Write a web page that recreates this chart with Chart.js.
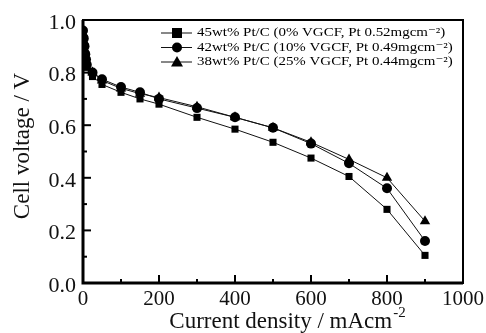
<!DOCTYPE html>
<html>
<head>
<meta charset="utf-8">
<script src="https://cdn.jsdelivr.net/npm/chart.js@4/dist/chart.umd.min.js"></script>
<style>
  html, body { margin: 0; padding: 0; background: #fff; }
  #wrap { width: 486px; height: 333px; }
</style>
</head>
<body>
<div id="wrap"><canvas id="fcChart" width="486" height="333"></canvas></div>
<script>
const current = [0, 2, 4, 6, 8, 10, 25, 50, 100, 150, 200, 300, 400, 500, 600, 700, 800, 900];
const v45 = [0.95, 0.92, 0.89, 0.86, 0.84, 0.82, 0.785, 0.755, 0.725, 0.70, 0.68, 0.63, 0.585, 0.535, 0.475, 0.405, 0.28, 0.105];
const v42 = [0.96, 0.93, 0.90, 0.87, 0.85, 0.83, 0.80, 0.775, 0.745, 0.725, 0.70, 0.665, 0.63, 0.59, 0.53, 0.455, 0.36, 0.16];
const v38 = [0.95, 0.92, 0.89, 0.86, 0.84, 0.82, 0.80, 0.77, 0.74, 0.72, 0.705, 0.67, 0.63, 0.59, 0.535, 0.47, 0.40, 0.235];
const seriesNames = [
  "45wt% Pt/C (0% VGCF, Pt 0.52mgcm\u207B\u00B2)",
  "42wt% Pt/C (10% VGCF, Pt 0.49mgcm\u207B\u00B2)",
  "38wt% Pt/C (25% VGCF, Pt 0.44mgcm\u207B\u00B2)",
];
const markers = ["rect", "circle", "triangle"];
const xTicks = [0, 200, 400, 600, 800, 1000];
const yTicks = [0.0, 0.2, 0.4, 0.6, 0.8, 1.0];
const xTitle = "Current density / mAcm";
const xTitleSup = "-2";
const yTitle = "Cell voltage / V";

const serif = "'Liberation Serif', 'DejaVu Serif', serif";

function pts(ys) {
  return current.map((x, i) => ({ x: x, y: ys[i] }));
}

function ds(label, ys, style) {
  return {
    label: label,
    data: pts(ys),
    borderColor: "#111",
    backgroundColor: "#000",
    borderWidth: 1,
    pointStyle: style,
    pointRadius: style === "triangle" ? 6 : 5,
    pointBorderWidth: 0,
    tension: 0,
  };
}

// frame, inward ticks, tick labels, titles and legend
const framePlugin = {
  id: "frame",
  afterDraw(chart) {
    const c = chart.ctx;
    const a = chart.chartArea;
    const xs = chart.scales.x;
    const ys = chart.scales.y;
    c.save();
    c.strokeStyle = "#000";
    c.lineWidth = 2;
    c.strokeRect(a.left, a.top, a.right - a.left, a.bottom - a.top);
    c.lineWidth = 3;
    c.beginPath();
    c.moveTo(a.left, a.top);
    c.lineTo(a.left, a.bottom);
    c.lineTo(a.right, a.bottom);
    c.stroke();

    c.lineWidth = 2;
    for (let v = 0; v <= 1000; v += 100) {
      const px = xs.getPixelForValue(v);
      const len = v % 200 === 0 ? 8 : 4;
      c.beginPath();
      c.moveTo(px, a.bottom);
      c.lineTo(px, a.bottom - len);
      c.stroke();
    }
    for (let k = 0; k <= 10; k++) {
      const py = ys.getPixelForValue(k / 10);
      const len = k % 2 === 0 ? 8 : 4;
      c.beginPath();
      c.moveTo(a.left, py);
      c.lineTo(a.left + len, py);
      c.stroke();
    }

    // tick labels
    c.fillStyle = "#111";
    c.textBaseline = "middle";
    c.font = "21px " + serif;
    c.textAlign = "center";
    xTicks.forEach((v) => {
      c.fillText(String(v), xs.getPixelForValue(v), a.bottom + 16);
    });
    c.font = "22px " + serif;
    c.textAlign = "right";
    yTicks.forEach((v) => {
      c.fillText(v.toFixed(1), a.left - 7, ys.getPixelForValue(v) + 3);
    });

    // axis titles
    c.font = "23px " + serif;
    c.textAlign = "left";
    const w1 = c.measureText(xTitle).width;
    c.font = "15px " + serif;
    const w2 = c.measureText(xTitleSup).width;
    let x0 = 287 - (w1 + w2) / 2;
    c.font = "23px " + serif;
    c.fillText(xTitle, x0, 322);
    c.font = "15px " + serif;
    c.fillText(xTitleSup, x0 + w1 + 1, 313);

    c.save();
    c.translate(23, 146);
    c.rotate(-Math.PI / 2);
    c.font = "23px " + serif;
    c.textAlign = "center";
    c.fillText(yTitle, 0, 0);
    c.restore();

    // legend
    c.textAlign = "left";
    c.fillStyle = "#000";
    const lx = 161, tx = 197;
    chart.data.datasets.forEach((d, i) => {
      const ly = 33 + i * 14.5;
      c.strokeStyle = "#111";
      c.lineWidth = 1;
      c.beginPath();
      c.moveTo(lx, ly);
      c.lineTo(lx + 31, ly);
      c.stroke();
      c.beginPath();
      if (markers[i] === "rect") {
        c.fillRect(lx + 11, ly - 5, 10, 10);
      } else if (markers[i] === "circle") {
        c.arc(lx + 16, ly, 5, 0, Math.PI * 2);
        c.fill();
      } else {
        c.moveTo(lx + 16, ly - 6);
        c.lineTo(lx + 22, ly + 4.5);
        c.lineTo(lx + 10, ly + 4.5);
        c.closePath();
        c.fill();
      }
      c.save();
      c.translate(tx, ly);
      c.scale(1.15, 1);
      c.font = "13px " + serif;
      c.fillText(seriesNames[i], 0, 0);
      c.restore();
    });
    c.restore();
  },
};

const ctx = document.getElementById("fcChart").getContext("2d");
const chart = new Chart(ctx, {
  type: "line",
  data: {
    datasets: [
      ds(seriesNames[0], v45, markers[0]),
      ds(seriesNames[1], v42, markers[1]),
      ds(seriesNames[2], v38, markers[2]),
    ],
  },
  options: {
    responsive: false,
    animation: false,
    layout: { padding: { top: 20, right: 23, left: 0, bottom: 0 } },
    plugins: {
      legend: { display: false },
      tooltip: { enabled: false },
    },
    scales: {
      x: {
        type: "linear",
        min: 0,
        max: 1000,
        afterBuildTicks: (s) => { s.ticks = xTicks.map((v) => ({ value: v })); },
        afterFit: (s) => { s.height = 50; },
        grid: { display: false, drawTicks: false },
        border: { display: false },
        ticks: { display: false },
      },
      y: {
        min: 0,
        max: 1.0,
        afterBuildTicks: (s) => { s.ticks = yTicks.map((v) => ({ value: v })); },
        afterFit: (s) => { s.width = 83; },
        grid: { display: false, drawTicks: false },
        border: { display: false },
        ticks: { display: false },
      },
    },
  },
  plugins: [framePlugin],
});
</script>
</body>
</html>
